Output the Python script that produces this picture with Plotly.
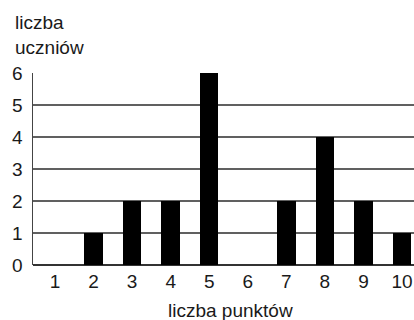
import plotly.graph_objects as go

points = [1, 2, 3, 4, 5, 6, 7, 8, 9, 10]
students = [0, 1, 2, 2, 6, 0, 2, 4, 2, 1]
y_ticks = [0, 1, 2, 3, 4, 5, 6]
x_title = "liczba punktów"
y_title = "liczba<br>uczniów"

FONT = "Liberation Sans, Arial, sans-serif"
TXT = "#1a1a1a"

L, T, B, R = 33, 73, 55, 0
W, H = 414, 320
PW, PH = W - L - R, H - T - B

fig = go.Figure()
fig.add_trace(go.Bar(
    x=points, y=students, width=0.48,
    marker=dict(color="black", line=dict(width=0)),
    showlegend=False, hoverinfo="skip",
))

fig.update_layout(
    width=W, height=H,
    margin=dict(l=L, r=R, t=T, b=B, pad=0),
    paper_bgcolor="white", plot_bgcolor="white",
    font=dict(family=FONT, size=19, color=TXT),
    xaxis=dict(
        range=[0.4295, 10.311], tickmode="array", tickvals=points,
        ticktext=[str(p) for p in points],
        showgrid=False, zeroline=False, showline=False,
        ticks="", ticklabelstandoff=3, ticklabeloverflow="allow",
        tickfont=dict(family=FONT, size=19, color=TXT),
    ),
    yaxis=dict(
        range=[0, 6], tickmode="array", tickvals=y_ticks,
        ticktext=[str(v) for v in y_ticks],
        showgrid=True, gridcolor="#606060", gridwidth=1.5,
        zeroline=True, zerolinecolor="#333", zerolinewidth=2,
        showline=True, linecolor="#444", linewidth=1.5,
        ticks="", ticklabelstandoff=5,
        tickfont=dict(family=FONT, size=19, color=TXT),
    ),
    annotations=[
        dict(text=y_title, xref="paper", yref="paper", x=(12.7 - L) / PW, y=1 + T / PH,
             xanchor="left", yanchor="top", showarrow=False, align="left",
             yshift=-10,
             font=dict(family=FONT, size=19, color=TXT)),
        dict(text=x_title, xref="paper", yref="paper", x=(230 - L) / PW, y=0,
             xanchor="center", yanchor="top", showarrow=False,
             yshift=-33,
             font=dict(family=FONT, size=19, color=TXT)),
    ],
    bargap=0,
)

fig.write_html(
    "out.html",
    config={"displayModeBar": False, "staticPlot": True},
    post_script="document.body.style.margin='0';document.body.style.overflow='hidden';",
)
